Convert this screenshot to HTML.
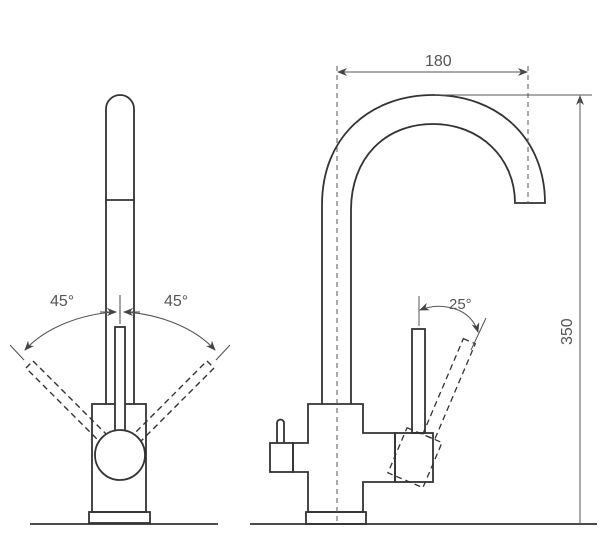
<!DOCTYPE html>
<html><head><style>body{margin:0;background:#fff}svg{display:block}</style></head><body>
<svg width="600" height="553" viewBox="0 0 600 553" xmlns="http://www.w3.org/2000/svg" font-family="Liberation Sans, sans-serif">
<defs><marker id="a" markerWidth="10" markerHeight="8" refX="9" refY="4" orient="auto" markerUnits="userSpaceOnUse"><path d="M0,0 L10,4 L0,8 L3,4z" fill="#444"/></marker></defs>
<g fill="none" stroke="#333" stroke-width="1.8">
<!-- left faucet -->
<path d="M106,404 L106,109 A14,14 0 0 1 134,109 L134,404"/>
<line x1="106" y1="200" x2="134" y2="200"/>
<rect x="92" y="404" width="54" height="108" fill="#fff"/>
<g stroke-dasharray="6,4" stroke-width="1.4">
<rect x="115" y="327" width="10" height="110" transform="rotate(-45 120 455)"/>
<rect x="115" y="327" width="10" height="110" transform="rotate(45 120 455)"/>
</g>
<rect x="89" y="512" width="61" height="11"/>
<line x1="30" y1="524" x2="218" y2="524"/>
<rect x="115" y="327" width="10" height="110" fill="#fff"/>
<circle cx="120" cy="455" r="25" fill="#fff"/>
<g stroke-width="1.1" stroke="#555">
<line x1="120" y1="295" x2="120" y2="324"/>
<path d="M116,312 C80,314 45,328 25,350" marker-end="url(#a)"/>
<path d="M124,312 C160,314 195,328 215,350" marker-end="url(#a)"/>
<path d="M100,312 L116,312" marker-end="url(#a)"/>
<path d="M140,312 L124,312" marker-end="url(#a)"/>
<line x1="10" y1="345" x2="24" y2="360"/>
<line x1="230" y1="345" x2="216" y2="360"/>
</g>
<!-- right faucet -->
<path d="M322,404 L322,205 C322,135 372,95 433,95 C500,95 545,140 545,203 L515,203 C515,158 480,124 433,124 C385,124 351,158 351,210 L351,404"/>
<path d="M308,404 L363,404 L363,433 L395,433 L395,482 L363,482 L363,512 L308,512 L308,472 L293,472 L293,443 L308,443 Z" fill="#fff"/>
<rect x="270" y="443" width="23" height="29"/>
<path d="M277,443 L277,423 A3.5,3.5 0 0 1 284,423 L284,443"/>
<rect x="395" y="433" width="38" height="49"/>
<rect x="412" y="329" width="13" height="104"/>
<rect x="306" y="512" width="60" height="12"/>
<line x1="250" y1="524" x2="597" y2="524"/>
<g stroke-dasharray="6,4" stroke-width="1.3" transform="rotate(23 414 460)">
<rect x="395" y="433" width="38" height="49"/>
<rect x="412" y="329" width="13" height="104"/>
</g>
<g stroke-width="1" stroke="#555">
<line x1="337" y1="66" x2="337" y2="524" stroke-dasharray="5,4"/>
<line x1="528" y1="66" x2="528" y2="203" stroke-dasharray="5,4"/>
<line x1="340" y1="72" x2="527" y2="72" marker-end="url(#a)"/>
<line x1="525" y1="72" x2="338" y2="72" marker-end="url(#a)"/>
<line x1="435" y1="95" x2="592" y2="95"/>
<line x1="580" y1="100" x2="580" y2="96" marker-end="url(#a)"/>
<line x1="580" y1="97" x2="580" y2="524"/>
<line x1="419" y1="296" x2="419" y2="326"/>
<path d="M458,310 C445,305 432,305 420,310" marker-end="url(#a)"/>
<path d="M458,310 C468,314 475,322 478,332" marker-end="url(#a)"/>
<line x1="486" y1="318" x2="471" y2="350"/>
</g>
</g>
<g fill="#555" font-size="16">
<text x="50" y="306">45°</text>
<text x="164" y="306">45°</text>
<text x="425" y="66">180</text>
<text x="449" y="309" font-size="15">25°</text>
<text transform="translate(572,345) rotate(-90)">350</text>
</g>
</svg>
</body></html>
